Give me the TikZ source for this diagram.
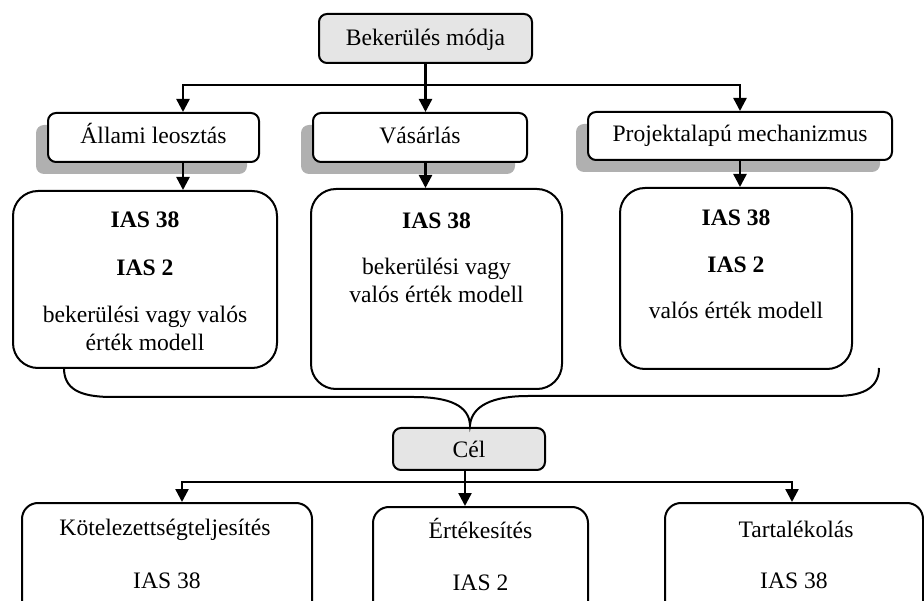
\documentclass[tikz,border=0pt]{standalone}
\usepackage{fontspec}
\setmainfont{Liberation Serif}
\usetikzlibrary{arrows.meta,shadows}
\begin{document}
\begin{tikzpicture}[x=1pt,y=-1pt,
  txt/.style={anchor=base,inner sep=0pt,font=\fontsize{23.6}{28}\selectfont},
  bold/.style={anchor=base,inner sep=0pt,font=\fontsize{23.6}{28}\selectfont\bfseries},
  frame/.style={draw,line width=2pt,inner sep=0pt,fill=white},
  smallbox/.style={frame,rounded corners=8pt},
  greybox/.style={smallbox,fill=gray!20},
  shadowed/.style={drop shadow={shadow xshift=-12pt,shadow yshift=-12pt,fill=gray!62,opacity=1}},
  bigbox/.style={frame,rounded corners=25pt},
  goalbox/.style={frame,rounded corners=16pt},
  link/.style={line width=2.4pt},
  arr/.style={link,-{Triangle[width=13pt,length=13pt]}},
  brace/.style={line width=2pt},
]
\useasboundingbox (0,0) rectangle (924,601);
\clip (0,0) rectangle (924,601);

% --- top level: acquisition mode
\node[greybox,minimum width=213pt,minimum height=49pt] (top) at (425.5,38.5) {};
\node[txt] (toptxt) at (425.5,46) {Bekerülés módja};

% --- three ways of acquisition (with shadows)
\node[smallbox,shadowed,minimum width=211pt,minimum height=49pt] (a1) at (153.5,137.5) {};
\node[txt] (a1txt) at (153.5,144) {Állami leosztás};
\node[smallbox,shadowed,minimum width=214pt,minimum height=49pt] (a2) at (420,137.5) {};
\node[txt] (a2txt) at (420,144) {Vásárlás};
\node[smallbox,shadowed,minimum width=304pt,minimum height=48pt] (a3) at (740,136) {};
\node[txt] (a3txt) at (740,142) {Projektalapú mechanizmus};

% --- standards per way
\node[bigbox,minimum width=264pt,minimum height=177pt] (b1) at (145,279.5) {};
\node[bold] (b1l1) at (145,228) {IAS 38};
\node[bold] (b1l2) at (145,276) {IAS 2};
\node[txt] (b1l3) at (145,323) {bekerülési vagy valós};
\node[txt] (b1l4) at (145,351) {érték modell};

\node[bigbox,minimum width=251pt,minimum height=200pt] (b2) at (436.5,289) {};
\node[bold] (b2l1) at (436.5,229) {IAS 38};
\node[txt] (b2l2) at (436.5,275) {bekerülési vagy};
\node[txt] (b2l3) at (436.5,303) {valós érték modell};

\node[bigbox,minimum width=232pt,minimum height=181pt] (b3) at (736,278.5) {};
\node[bold] (b3l1) at (736,226) {IAS 38};
\node[bold] (b3l2) at (736,273) {IAS 2};
\node[txt] (b3l3) at (736,319) {valós érték modell};

% --- goal
\node[greybox,minimum width=152pt,minimum height=42pt] (cel) at (469,449) {};
\node[txt] (celtxt) at (469,457) {Cél};

% --- goals
\node[goalbox,minimum width=290pt,minimum height=140pt] (c1) at (167,573) {};
\node[txt] (c1l1) at (165,535) {Kötelezettségteljesítés};
\node[txt] (c1l2) at (167,588) {IAS 38};
\node[goalbox,minimum width=215pt,minimum height=140pt] (c2) at (480.5,577) {};
\node[txt] (c2l1) at (480.5,538) {Értékesítés};
\node[txt] (c2l2) at (480.5,590) {IAS 2};
\node[goalbox,minimum width=258pt,minimum height=140pt] (c3) at (794,573) {};
\node[txt] (c3l1) at (796,537) {Tartalékolás};
\node[txt] (c3l2) at (794,588) {IAS 38};

% --- connectors, upper tree
\coordinate (bus) at (425.5,85);
\coordinate (colL) at (183,0);
\draw[link] (top.south) -- (bus);
\draw[arr] (bus) -| (a1.north -| colL);
\draw[arr] (bus) -- (a2.north -| bus);
\draw[arr] (bus) -| (a3.north);
\draw[arr] (a1.south -| colL) -- (b1.north -| colL);
\draw[arr] (a2.south -| bus) -- (b2.north -| bus);
\draw[arr] (a3.south) -- (b3.north -| a3.south);

% --- brace gathering the three standards
\coordinate (brL) at (64,368);
\coordinate (brR) at (879,368);
\coordinate (tip) at (470,425);
\draw[brace] (brL) .. controls (64,388) and (78,397) .. (112,397) -- (414,397)
  .. controls (450,397) and (469,406) .. (tip)
  .. controls (472,406) and (492,396) .. (528,396) -- (836,396)
  .. controls (866,396) and (879,386) .. (brR);

% --- connectors, lower tree
\coordinate (bus2) at (465,482);
\coordinate (dropL) at (182,0);
\coordinate (dropR) at (792,0);
\draw[link] (cel.south -| bus2) -- (bus2);
\draw[arr] (bus2) -- (c2.north -| bus2);
\draw[arr] (bus2) -| (c1.north -| dropL);
\draw[arr] (bus2) -| (c3.north -| dropR);
\end{tikzpicture}
\end{document}
